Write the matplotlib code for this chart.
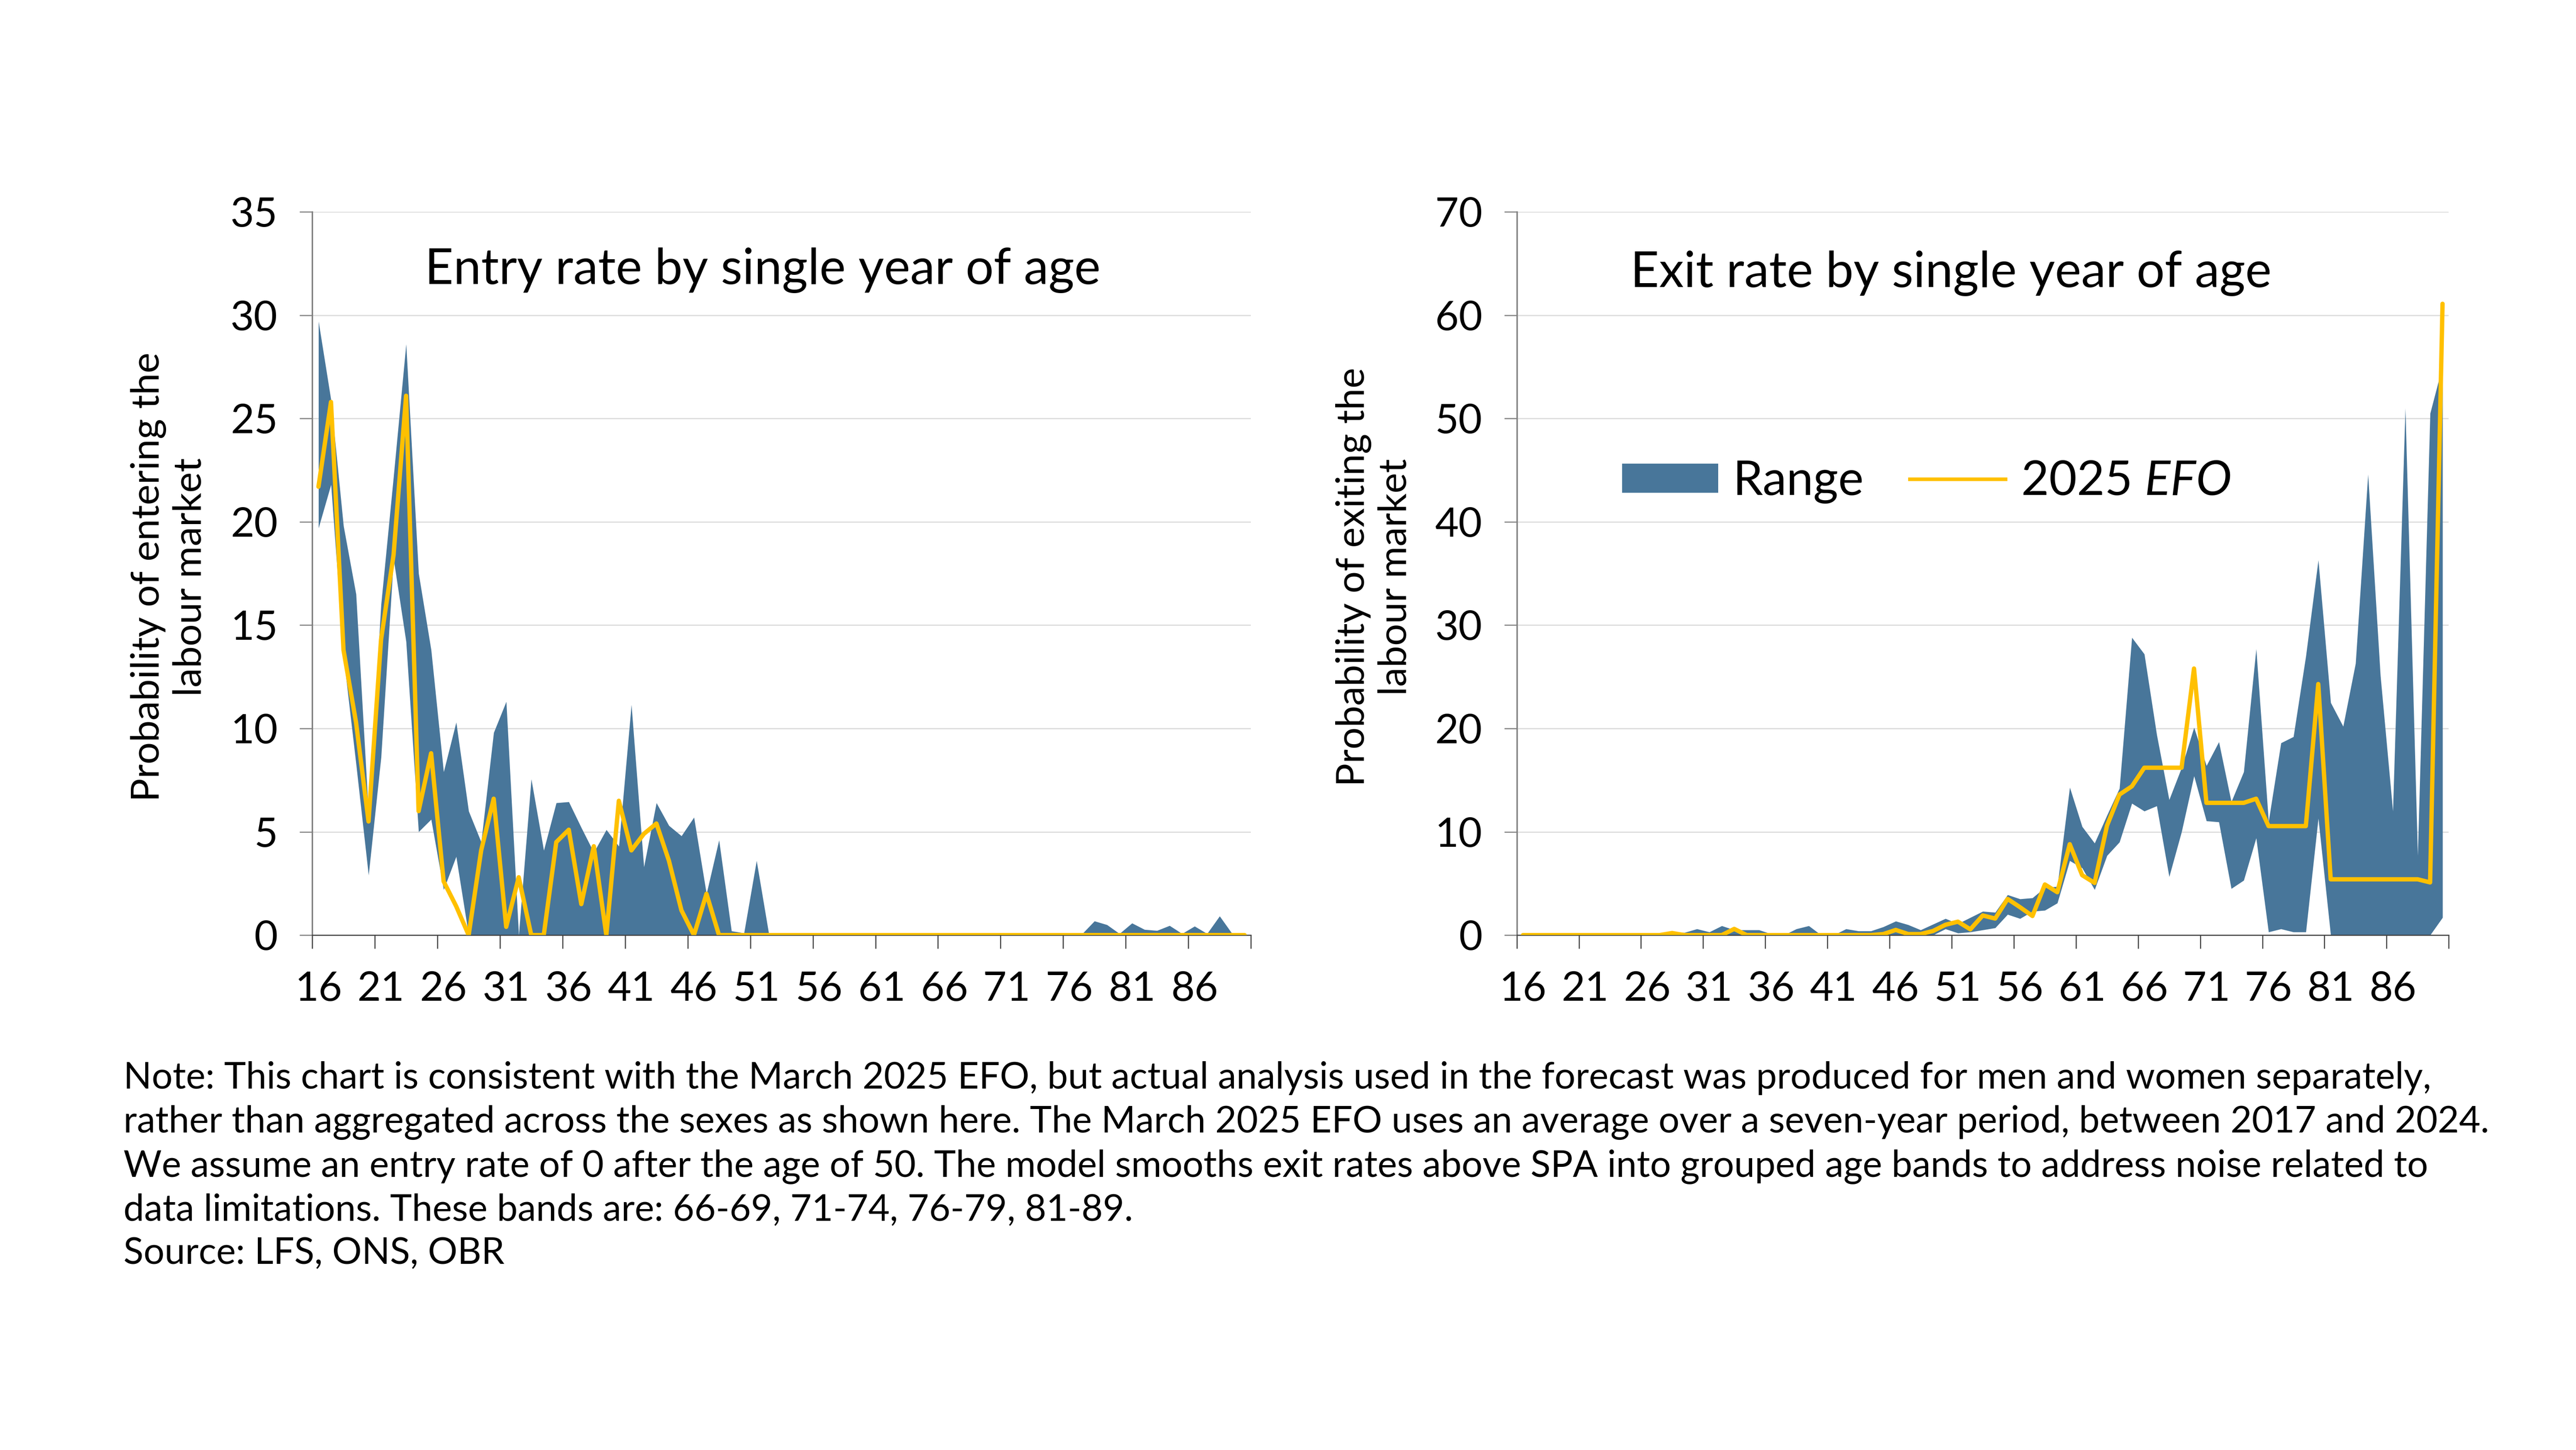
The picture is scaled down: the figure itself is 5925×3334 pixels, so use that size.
import matplotlib
matplotlib.use("Agg")
import matplotlib.pyplot as plt
from matplotlib.patches import Patch
from matplotlib.lines import Line2D
import numpy as np

plt.rcParams['font.family'] = ['Lato', 'DejaVu Sans']
plt.rcParams['mathtext.fontset'] = 'custom'
plt.rcParams['mathtext.rm'] = 'Lato'
plt.rcParams['mathtext.it'] = 'Lato:italic'

BAND = '#48769a'
GOLD = '#ffc000'

ages = list(range(16, 91))

# entry rates (per cent), ages 16-90
entry_efo = [21.7, 25.8, 13.8, 10.3, 5.5, 14.3, 18.4, 26.1, 6.0, 8.8,
             2.6, 1.4, 0.0, 4.1, 6.6, 0.4, 2.8, 0.0, 0.0, 4.5,
             5.1, 1.5, 4.3, 0.0, 6.5, 4.1, 4.9, 5.4, 3.6, 1.2,
             0.0, 2.0, 0.0] + [0.0] * 42
entry_low = [19.7, 21.8, 13.5, 8.3, 2.9, 8.6, 18.2, 14.2, 5.0, 5.6,
             2.2, 3.8] + [0.0] * 63
entry_high = [29.7, 25.9, 19.8, 16.5, 5.9, 16.0, 22.2, 28.6, 17.5, 13.8,
              7.9, 10.3, 6.0, 4.5, 9.8, 11.3, 0.0, 7.55, 4.1, 6.4,
              6.45, 5.2, 4.0, 5.1, 4.3, 11.15, 3.3, 6.4, 5.3, 4.8,
              5.7, 2.0, 4.6, 0.2, 0.1, 3.6, 0.0] + [0.0] * 24 + \
             [0.05, 0.68, 0.5, 0.07, 0.58, 0.27, 0.22, 0.46, 0.07, 0.43,
              0.07, 0.92, 0.07, 0.0]

# exit rates (per cent), ages 16-90
exit_efo = [0.0] * 12 + [0.2, 0.0, 0.0, 0.0, 0.0, 0.6] + [0.0] * 11 + \
           [0.1, 0.5, 0.1, 0.1, 0.4, 1.0, 1.3, 0.56, 1.9, 1.6,
            3.5, 2.7, 1.85, 4.9, 4.15, 8.8, 5.8, 5.05, 10.6, 13.6,
            14.4, 16.2, 16.2, 16.2, 16.2, 25.8, 12.8, 12.8, 12.8, 12.8,
            13.2, 10.55, 10.55, 10.55, 10.55, 24.3, 5.4, 5.4, 5.4, 5.4,
            5.4, 5.4, 5.4, 5.4, 5.1, 61.1]
exit_low = [0.0] * 34 + \
           [0.6, 0.2, 0.3, 0.5, 0.7, 2.0, 1.6, 2.3, 2.4, 3.1,
            7.2, 6.5, 4.4, 7.7, 9.0, 12.75, 12.0, 12.5, 5.65, 10.0,
            15.4, 11.05, 10.95, 4.5, 5.3, 9.4, 0.3, 0.6, 0.3, 0.3,
            11.3, 0.0, 0.0, 0.0, 0.0, 0.0, 0.0, 0.0, 0.0, 0.0, 1.7]
exit_high = [0.0] * 12 + \
            [0.25, 0.25, 0.6, 0.3, 0.9, 0.5, 0.5, 0.5, 0.1, 0.0,
             0.6, 0.9, 0.0, 0.0, 0.6, 0.4, 0.4, 0.8, 1.35, 1.0,
             0.5, 1.05, 1.6, 1.1, 1.7, 2.3, 2.2, 3.9, 3.5, 3.6,
             4.6, 4.7, 14.3, 10.5, 8.9, 11.6, 14.2, 28.8, 27.2, 19.4,
             13.1, 16.2, 20.1, 16.4, 18.7, 12.9, 15.8, 27.7, 11.0, 18.6,
             19.2, 27.0, 36.3, 22.5, 20.2, 26.3, 44.6, 25.1, 12.0, 51.0,
             7.7, 50.5, 55.1]

label_ages = list(range(16, 87, 5))

note = ("Note: This chart is consistent with the March 2025 EFO, but actual analysis used in the forecast was produced for men and women separately,\n"
        "rather than aggregated across the sexes as shown here. The March 2025 EFO uses an average over a seven-year period, between 2017 and 2024.\n"
        "We assume an entry rate of 0 after the age of 50. The model smooths exit rates above SPA into grouped age bands to address noise related to\n"
        "data limitations. These bands are: 66-69, 71-74, 76-79, 81-89.\n"
        "Source: LFS, ONS, OBR")

fig = plt.figure(figsize=(5925 / 300, 3334 / 300), dpi=300)
ax1 = fig.add_axes([0.1212, 0.3551, 0.3644, 0.4988])
ax2 = fig.add_axes([0.5888, 0.3551, 0.3618, 0.4988])


def style(ax, top, step):
    ax.set_xlim(15.5, 90.5)
    ax.set_ylim(0, top)
    ax.set_yticks(np.arange(0, top + 1, step))
    ax.set_xticks(np.arange(15.5, 91, 5))
    ax.set_xticklabels([])
    ax.set_xticks(label_ages, minor=True)
    ax.set_xticklabels([str(a) for a in label_ages], minor=True)
    ax.tick_params(axis='x', which='major', length=7.5, width=0.6, color='#404040')
    ax.tick_params(axis='x', which='minor', length=0, pad=20, labelsize=22.5)
    ax.tick_params(axis='y', length=7, width=0.6, color='#808080', pad=12, labelsize=22.5)
    ax.grid(axis='y', color='#d9d9d9', lw=0.6)
    ax.set_axisbelow(True)
    for s in ['top', 'right']:
        ax.spines[s].set_visible(False)
    ax.spines['left'].set_color('#808080')
    ax.spines['left'].set_linewidth(0.8)
    ax.spines['bottom'].set_color('#404040')
    ax.spines['bottom'].set_linewidth(0.6)


for ax, low, high, efo, top, step in [(ax1, entry_low, entry_high, entry_efo, 35, 5),
                                      (ax2, exit_low, exit_high, exit_efo, 70, 10)]:
    ax.fill_between(ages, low, high, color=BAND, lw=0, zorder=2)
    ax.plot(ages, efo, color=GOLD, lw=2.4, solid_joinstyle='round',
            solid_capstyle='round', zorder=3)
    style(ax, top, step)

fig.text(0.296, 0.804, "Entry rate by single year of age", ha='center',
         va='baseline', fontsize=27.4)
fig.text(0.7574, 0.802, "Exit rate by single year of age", ha='center',
         va='baseline', fontsize=27.4)

fig.text(0.0657, 0.602, "Probability of entering the\nlabour market", rotation=90,
         ha='center', va='center', multialignment='center', fontsize=21.5)
fig.text(0.5335, 0.602, "Probability of exiting the\nlabour market", rotation=90,
         ha='center', va='center', multialignment='center', fontsize=21.4)

handles = [Patch(facecolor=BAND, edgecolor='none', label='Range'),
           Line2D([0], [0], color=GOLD, lw=2.0, label='2025 $\\mathit{EFO}$')]
ax2.legend(handles=handles, loc='center', bbox_to_anchor=(0.7478, 0.6677),
           bbox_transform=fig.transFigure, ncol=2, frameon=False, fontsize=26.5,
           handlelength=2.0, handleheight=0.55, handletextpad=0.31,
           columnspacing=0.95, borderpad=0)

fig.text(0.048, 0.268, note, ha='left', va='top', fontsize=20.4, linespacing=1.345)

fig.savefig("out.png", dpi=300)
